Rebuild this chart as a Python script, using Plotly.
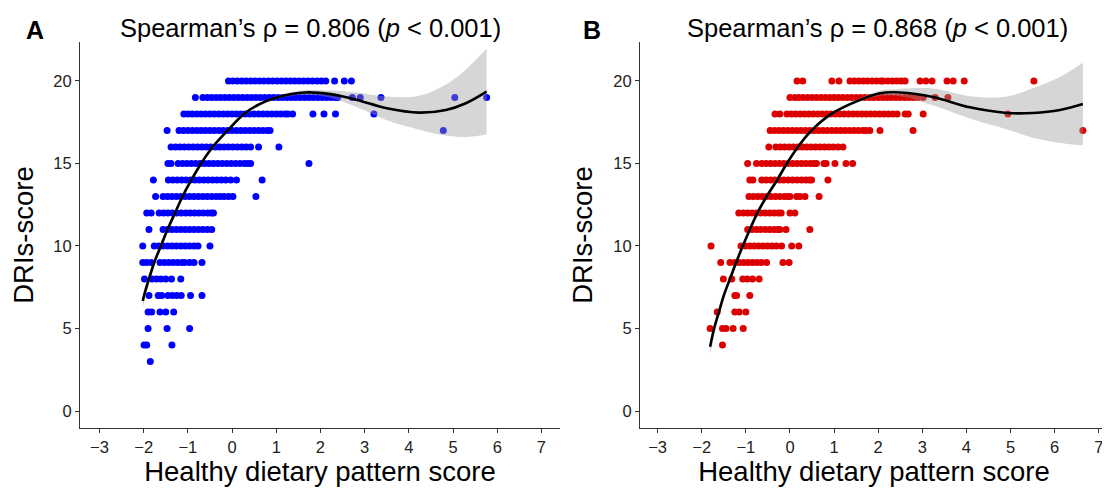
import plotly.graph_objects as go

# ---------------- data ----------------
ticks_x = [-3, -2, -1, 0, 1, 2, 3, 4, 5, 6, 7]
ticks_y = [0, 5, 10, 15, 20]

# Panel A: healthy dietary pattern score (x) per DRIs-score row
a_rows = {
    20: [-0.08, 0.02, 0.12, 0.22, 0.32, 0.42, 0.52, 0.62, 0.72, 0.82, 0.92, 1.02, 1.12, 1.22, 1.32,
         1.42, 1.52, 1.62, 1.72, 1.82, 1.92, 2.02, 2.12, 2.32, 2.54, 2.70],
    19: [-0.83, -0.66, -0.56, -0.46, -0.36, -0.26, -0.16, -0.06, 0.04, 0.14, 0.24, 0.34, 0.44, 0.54,
         0.64, 0.74, 0.84, 0.94, 1.04, 1.14, 1.24, 1.34, 1.44, 1.54, 1.64, 1.74, 1.84, 1.94, 2.04,
         2.14, 2.24, 2.34, 2.39, 2.72, 2.90, 3.37, 5.04, 5.76],
    18: [-1.09, -1.00, -0.90, -0.80, -0.70, -0.60, -0.50, -0.40, -0.30, -0.20, -0.10, 0.00, 0.10,
         0.20, 0.30, 0.40, 0.50, 0.60, 0.70, 0.80, 0.90, 1.00, 1.10, 1.20, 1.26, 1.37, 1.83, 2.08,
         2.34, 3.21],
    17: [-1.47, -1.20, -1.10, -1.00, -0.90, -0.80, -0.70, -0.60, -0.50, -0.40, -0.30, -0.20, -0.10,
         0.00, 0.10, 0.20, 0.30, 0.40, 0.50, 0.60, 0.70, 0.80, 0.86, 4.78],
    16: [-1.38, -1.28, -1.18, -1.08, -0.98, -0.88, -0.78, -0.68, -0.58, -0.48, -0.38, -0.28, -0.18,
         -0.08, 0.02, 0.12, 0.22, 0.32, 0.42, 0.60, 1.06],
    15: [-1.45, -1.38, -1.22, -1.12, -1.02, -0.92, -0.82, -0.72, -0.62, -0.52, -0.42, -0.32, -0.22,
         -0.12, -0.02, 0.08, 0.18, 0.28, 0.36, 0.42, 1.74],
    14: [-1.78, -1.44, -1.34, -1.24, -1.14, -1.04, -0.94, -0.84, -0.74, -0.64, -0.54, -0.44, -0.34,
         -0.24, -0.14, -0.03, 0.10, 0.68],
    13: [-1.73, -1.56, -1.46, -1.36, -1.26, -1.16, -1.06, -0.96, -0.86, -0.76, -0.66, -0.56, -0.46,
         -0.36, -0.27, -0.18, -0.08, 0.02, 0.54],
    12: [-1.93, -1.83, -1.65, -1.55, -1.45, -1.35, -1.25, -1.15, -1.05, -0.95, -0.85, -0.75, -0.65,
         -0.55, -0.47, -0.42],
    11: [-1.88, -1.56, -1.46, -1.36, -1.26, -1.16, -1.06, -0.96, -0.86, -0.76, -0.66, -0.56, -0.46],
    10: [-2.02, -1.76, -1.66, -1.56, -1.46, -1.36, -1.26, -1.16, -1.06, -0.96, -0.86, -0.77, -0.50],
    9: [-2.02, -1.93, -1.83, -1.63, -1.53, -1.43, -1.33, -1.23, -1.13, -1.07, -0.96, -0.86, -0.68],
    8: [-1.98, -1.81, -1.71, -1.61, -1.50, -1.37, -1.16],
    7: [-1.88, -1.67, -1.59, -1.45, -1.35, -1.25, -1.15, -0.94, -0.68],
    6: [-1.90, -1.82, -1.63, -1.50, -1.32],
    5: [-1.90, -1.47, -0.96],
    4: [-1.99, -1.93, -1.36],
    3: [-1.85],
}

# Panel B
b_rows = {
    20: [0.16, 0.29, 0.95, 1.11, 1.36, 1.46, 1.56, 1.66, 1.76, 1.86, 1.96, 2.06, 2.11, 2.22, 2.32,
         2.42, 2.52, 2.61, 2.95, 3.08, 3.22, 3.56, 3.70, 3.95, 5.53],
    19: [0.00, 0.11, 0.20, 0.30, 0.40, 0.50, 0.60, 0.70, 0.80, 0.90, 1.00, 1.10, 1.20, 1.30, 1.40,
         1.50, 1.60, 1.70, 1.80, 1.90, 2.00, 2.10, 2.20, 2.30, 2.40, 2.50, 2.60, 2.70, 2.80, 2.90,
         3.02, 3.29, 3.58],
    18: [-0.34, -0.23, -0.07, 0.03, 0.13, 0.23, 0.33, 0.43, 0.53, 0.63, 0.73, 0.83, 0.93, 1.03,
         1.13, 1.23, 1.33, 1.43, 1.53, 1.63, 1.73, 1.83, 1.93, 2.03, 2.13, 2.23, 2.33, 2.43, 2.61,
         2.68, 3.02, 4.94],
    17: [-0.45, -0.35, -0.25, -0.15, -0.05, 0.05, 0.15, 0.25, 0.35, 0.45, 0.55, 0.65, 0.75, 0.85,
         0.95, 1.05, 1.15, 1.25, 1.35, 1.45, 1.55, 1.65, 1.72, 1.81, 2.04, 2.79, 6.64],
    16: [-0.48, -0.32, -0.22, -0.12, -0.02, 0.08, 0.18, 0.28, 0.38, 0.48, 0.58, 0.68, 0.78, 0.88,
         0.98, 1.09, 1.20],
    15: [-0.96, -0.76, -0.64, -0.54, -0.44, -0.34, -0.24, -0.14, -0.04, 0.06, 0.16, 0.26, 0.36,
         0.46, 0.54, 0.60, 0.77, 0.82, 1.02, 1.27, 1.42],
    14: [-0.91, -0.84, -0.64, -0.54, -0.44, -0.34, -0.24, -0.14, -0.04, 0.06, 0.16, 0.26, 0.36,
         0.44, 0.49, 0.86],
    13: [-0.93, -0.83, -0.73, -0.63, -0.53, -0.43, -0.33, -0.23, -0.13, -0.05, 0.00, 0.15, 0.23,
         0.34, 0.66],
    12: [-1.16, -1.06, -0.96, -0.86, -0.76, -0.66, -0.56, -0.46, -0.36, -0.27, -0.20, 0.00, 0.11],
    11: [-0.96, -0.86, -0.76, -0.66, -0.56, -0.46, -0.36, -0.28, -0.23, -0.09, 0.45],
    10: [-1.79, -1.11, -1.01, -0.91, -0.81, -0.71, -0.61, -0.51, -0.41, -0.31, -0.19, 0.04, 0.20],
    9: [-1.57, -1.36, -1.25, -1.15, -1.05, -0.95, -0.85, -0.75, -0.65, -0.53, -0.16, -0.02],
    8: [-1.51, -1.32, -1.07, -0.97, -0.85, -0.70],
    7: [-1.25, -1.21, -0.91],
    6: [-1.65, -1.25, -1.15, -1.00],
    5: [-1.81, -1.53, -1.45, -1.29, -1.06],
    4: [-1.53],
}

# Smooth fits
a_fit_x = [-2.02, -1.99, -1.88, -1.76, -1.61, -1.46, -1.29, -1.12, -0.92, -0.70, -0.44, -0.10,
           0.27, 0.62, 1.01, 1.65, 2.23, 2.83, 3.50, 4.24, 4.84, 5.29, 5.76]
a_fit_y = [6.67, 7.0, 8.0, 9.0, 10.0, 11.0, 12.0, 13.0, 14.0, 15.0, 16.0, 17.0,
           18.0, 18.6, 19.0, 19.3, 19.2, 18.85, 18.34, 18.08, 18.24, 18.65, 19.35]
a_band_x = [-2.02, -1.76, -1.46, -1.12, -0.70, -0.10, 0.27, 1.01, 1.65, 2.23, 2.83, 3.50, 4.24,
            4.84, 5.29, 5.76]
a_band_lo = [6.27, 8.75, 10.82, 12.86, 14.88, 16.90, 17.90, 18.90, 19.17, 18.98, 18.40, 17.62,
             17.05, 16.69, 16.60, 16.75]
a_band_hi = [7.07, 9.25, 11.18, 13.14, 15.12, 17.10, 18.10, 19.10, 19.43, 19.42, 19.30, 19.06,
             19.11, 19.79, 20.70, 21.95]

b_fit_x = [-1.81, -1.72, -1.61, -1.50, -1.36, -1.22, -1.07, -0.91, -0.74, -0.53, -0.29, -0.07,
           0.18, 0.49, 0.94, 1.59, 2.04, 2.50, 3.24, 4.08, 4.92, 5.51, 6.12, 6.64]
b_fit_y = [3.9, 5.0, 6.0, 7.0, 8.0, 9.0, 10.0, 11.0, 12.0, 13.0, 14.0, 15.0,
           16.0, 17.0, 18.0, 18.85, 19.25, 19.3, 19.03, 18.4, 18.06, 18.06, 18.24, 18.6]
b_band_x = [-1.81, -1.50, -1.07, -0.53, -0.07, 0.49, 0.94, 1.59, 2.04, 2.50, 3.24, 4.08, 4.92,
            5.51, 6.12, 6.64]
b_band_lo = [3.45, 6.75, 9.82, 12.86, 14.88, 16.90, 17.90, 18.74, 19.10, 19.08, 18.52, 17.72,
             17.06, 16.56, 16.24, 16.10]
b_band_hi = [4.35, 7.25, 10.18, 13.14, 15.12, 17.10, 18.10, 18.96, 19.40, 19.52, 19.54, 19.08,
             19.06, 19.56, 20.24, 21.10]

titles = ["Spearman\u2019s \u03c1 = 0.806 (<i>p</i> < 0.001)",
          "Spearman\u2019s \u03c1 = 0.868 (<i>p</i> < 0.001)"]
panel_labels = ["A", "B"]
x_title = "Healthy dietary pattern score"
y_title = "DRIs-score"

# ---------------- figure ----------------
# The page body has an 8px default margin, so the figure is laid out 8px smaller
# and all pixel positions below are in figure coordinates (screen - 8).
W, H = 1102, 480
T, B = 34, 60
PH = H - T - B
FONT = "Liberation Sans, Arial, Helvetica, sans-serif"
fig = go.Figure()


def flatten(rows):
    xs, ys = [], []
    for score, vals in rows.items():
        xs.extend(vals)
        ys.extend([score] * len(vals))
    return xs, ys


panels = [
    (a_rows, "#0000FF", a_fit_x, a_fit_y, a_band_x, a_band_lo, a_band_hi, "x", "y"),
    (b_rows, "#DD0000", b_fit_x, b_fit_y, b_band_x, b_band_lo, b_band_hi, "x2", "y2"),
]

for rows, col, fx, fy, bx, blo, bhi, xa, ya in panels:
    px, py = flatten(rows)
    fig.add_trace(go.Scatter(x=px, y=py, mode="markers", xaxis=xa, yaxis=ya,
                             marker=dict(color=col, size=7, line=dict(width=0)),
                             showlegend=False, hoverinfo="skip"))
    fig.add_trace(go.Scatter(x=bx, y=blo, mode="lines", xaxis=xa, yaxis=ya,
                             line=dict(width=0, shape="spline"), showlegend=False,
                             hoverinfo="skip"))
    fig.add_trace(go.Scatter(x=bx, y=bhi, mode="lines", xaxis=xa, yaxis=ya,
                             line=dict(width=0, shape="spline"), fill="tonexty",
                             fillcolor="rgba(153,153,153,0.4)", showlegend=False,
                             hoverinfo="skip"))
    fig.add_trace(go.Scatter(x=fx, y=fy, mode="lines", xaxis=xa, yaxis=ya,
                             line=dict(color="black", width=2.6, shape="spline", smoothing=1.0),
                             showlegend=False, hoverinfo="skip"))

axis_common = dict(showline=True, linecolor="#333333", linewidth=1, ticks="outside",
                   ticklen=4, tickcolor="#333333", tickwidth=1, showgrid=False,
                   zeroline=False, automargin=False,
                   tickfont=dict(family=FONT, size=16.5, color="#222222"))
title_font = dict(family=FONT, size=27.5, color="black")

fig.update_layout(
    width=W, height=H,
    margin=dict(l=0, r=0, t=T, b=B),
    paper_bgcolor="white", plot_bgcolor="white",
    font=dict(family=FONT, color="black"),
    xaxis=dict(domain=[72 / W, 552 / W], range=[-3.44, 7.42], tickvals=ticks_x,
               title=dict(text=x_title, font=title_font, standoff=4), anchor="y",
               **axis_common),
    yaxis=dict(domain=[0, 1], range=[-1.03, 22.36], tickvals=ticks_y,
               title=dict(text=y_title, font=title_font, standoff=12), anchor="x",
               **axis_common),
    xaxis2=dict(domain=[632 / W, 1100 / W], range=[-3.40, 7.21], tickvals=ticks_x,
                title=dict(text=x_title, font=title_font, standoff=4), anchor="y2",
                **axis_common),
    yaxis2=dict(domain=[0, 1], range=[-1.03, 22.36], tickvals=ticks_y,
                title=dict(text=y_title, font=title_font, standoff=12), anchor="x2",
                **axis_common),
)

title_x = [302 / W, 869 / W]
label_x = [27 / W, 584 / W]
for i in range(2):
    fig.add_annotation(text=titles[i], xref="paper", yref="paper", x=title_x[i],
                       y=1 + (T - 20) / PH, xanchor="center", yanchor="middle",
                       showarrow=False, font=dict(family=FONT, size=25.5, color="black"))
    fig.add_annotation(text="<b>" + panel_labels[i] + "</b>", xref="paper", yref="paper",
                       x=label_x[i], y=1 + (T - 22) / PH, xanchor="center",
                       yanchor="middle", showarrow=False,
                       font=dict(family=FONT, size=25, color="black"))

fig.write_html("out.html", config={"displayModeBar": False})
